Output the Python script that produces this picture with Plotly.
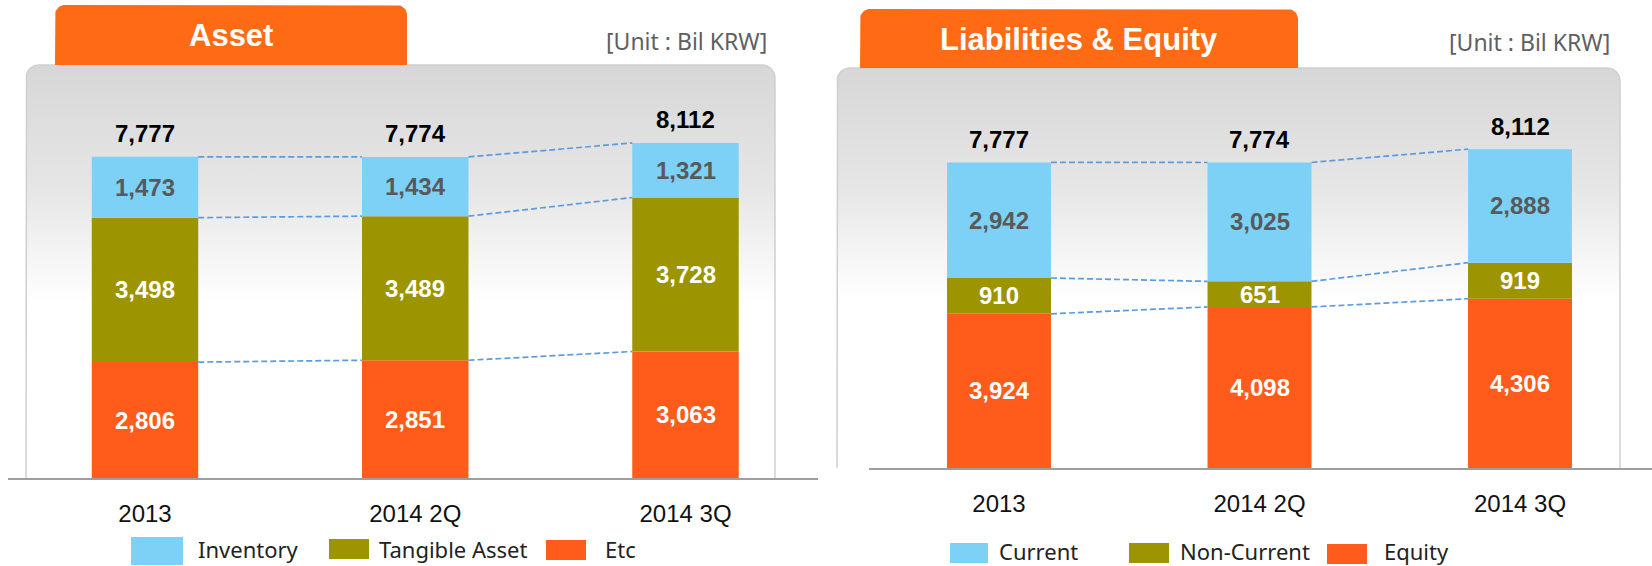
import numpy as np
import plotly.graph_objects as go

W, H = 1652, 566

# ---------------- data ----------------
categories = ["2013", "2014 2Q", "2014 3Q"]

asset_title = "Asset"
asset_series = ["Etc", "Tangible Asset", "Inventory"]          # bottom -> top
asset_etc = [2806, 2851, 3063]
asset_tangible = [3498, 3489, 3728]
asset_inventory = [1473, 1434, 1321]
asset_totals = [7777, 7774, 8112]

le_title = "Liabilities & Equity"
le_series = ["Equity", "Non-Current", "Current"]              # bottom -> top
le_equity = [3924, 4098, 4306]
le_noncurrent = [910, 651, 919]
le_current = [2942, 3025, 2888]
le_totals = [7777, 7774, 8112]

unit_label = "[Unit : Bil KRW]"

# ---------------- styles ----------------
BLUE = "#7DD1F6"
OLIVE = "#9C9400"
ORANGE = "#FF5B1A"
TAB = "#FF6A14"
DASH = "#5B9BE0"
NUM_FONT = "Liberation Sans, Arial, sans-serif"
TXT_FONT = "Noto Sans, sans-serif"


def px_x(x):
    return x / W


def px_y(y):
    return 1 - y / H


def rounded_top(x0, x1, y0, y1, r, closed=True):
    xs, ys = [x0], [y1]
    a = np.linspace(np.pi, 1.5 * np.pi, 12)
    xs += list(x0 + r + r * np.cos(a)); ys += list(y0 + r + r * np.sin(a))
    a = np.linspace(1.5 * np.pi, 2 * np.pi, 12)
    xs += list(x1 - r + r * np.cos(a)); ys += list(y0 + r + r * np.sin(a))
    xs.append(x1); ys.append(y1)
    if closed:
        xs.append(x0); ys.append(y1)
    return xs, ys


fig = go.Figure()

# ---------- decorations on a pixel-space overlay (x/y) ----------
panels = [(26, 775, 65, 478), (837, 1620, 68, 468)]
for (x0, x1, y0, y1) in panels:
    xs, ys = rounded_top(x0, x1, y0, y1, 13)
    fig.add_trace(go.Scatter(
        x=xs, y=ys, mode="lines", fill="toself", line=dict(width=0),
        fillgradient=dict(type="vertical", start=y0, stop=y1,
                          colorscale=[[0, "#D7D7D7"], [0.3, "#E6E6E6"],
                                      [0.58, "#FFFFFF"], [1, "#FFFFFF"]]),
        hoverinfo="skip", showlegend=False, xaxis="x", yaxis="y"))
    bx, by = rounded_top(x0, x1, y0, y1, 13, closed=False)
    fig.add_trace(go.Scatter(
        x=bx, y=by, mode="lines", line=dict(color="#CFCFCF", width=1.5),
        hoverinfo="skip", showlegend=False, xaxis="x", yaxis="y"))

tabs = [(55, 407, 5, 65), (860, 1298, 9, 68)]
for (x0, x1, y0, y1) in tabs:
    xs, ys = rounded_top(x0, x1, y0, y1, 10)
    fig.add_trace(go.Scatter(
        x=xs, y=ys, mode="lines", fill="toself", fillcolor=TAB,
        line=dict(width=0), hoverinfo="skip", showlegend=False,
        xaxis="x", yaxis="y"))

# ---------- chart definitions ----------
charts = [
    dict(ax="2", series=asset_series,
         values=[asset_etc, asset_tangible, asset_inventory],
         colors=[ORANGE, OLIVE, BLUE], label_colors=["white", "white", "#595959"],
         totals=asset_totals, width=0.394,
         xdom=(8, 818), centers=(145, 685.5), base=478, top=65, scale=0.0413,
         title=asset_title, title_pos=(231, 35), unit_pos=(769, 41),
         legend=[  # (series index, swatch x0, x1, y0, y1, text x)
             (2, 131, 183, 537, 565, 196),
             (1, 329, 369, 539, 559, 377),
             (0, 546, 586, 540, 560, 603)],
         legend_y=549, standoff=13),
    dict(ax="3", series=le_series,
         values=[le_equity, le_noncurrent, le_current],
         colors=[ORANGE, OLIVE, BLUE], label_colors=["white", "white", "#595959"],
         totals=le_totals, width=0.399,
         xdom=(869, 1652), centers=(999, 1520), base=468, top=68, scale=0.0393,
         title=le_title, title_pos=(1079, 39), unit_pos=(1612, 42),
         legend=[
             (2, 950, 988, 543, 563, 997),
             (1, 1129, 1169, 543, 563, 1178),
             (0, 1327, 1367, 544, 564, 1382)],
         legend_y=551, standoff=13),
]

annotations = []
shapes = []
layout_axes = {}

xpos = list(range(len(categories)))

for ch in charts:
    ax = ch["ax"]
    xa, ya = "x" + ax, "y" + ax
    c0, c2 = ch["centers"]
    spacing = (c2 - c0) / (len(categories) - 1)
    xd0, xd1 = ch["xdom"]
    xr = [-(c0 - xd0) / spacing, (len(categories) - 1) + (xd1 - c2) / spacing]
    yr = [0, (ch["base"] - ch["top"]) / ch["scale"]]

    layout_axes["xaxis" + ax] = dict(
        domain=[px_x(xd0), px_x(xd1)], range=xr, anchor=ya,
        tickvals=xpos, ticktext=categories, showgrid=False, zeroline=False,
        showline=True, linecolor="#9E9E9E", linewidth=2, ticks="",
        tickfont=dict(family=NUM_FONT, size=24, color="#111111"),
        ticklabelstandoff=ch["standoff"], fixedrange=True)
    layout_axes["yaxis" + ax] = dict(
        domain=[px_y(ch["base"]), px_y(ch["top"])], range=yr, anchor=xa,
        visible=False, fixedrange=True)

    cum = np.zeros(len(categories))
    levels = []
    for name, vals, col, lcol in zip(ch["series"], ch["values"],
                                     ch["colors"], ch["label_colors"]):
        vals = np.array(vals, dtype=float)
        fig.add_trace(go.Bar(
            x=xpos, y=vals, base=cum.copy(), name=name, width=ch["width"],
            marker=dict(color=col, line=dict(width=0)),
            hoverinfo="skip", showlegend=False, xaxis=xa, yaxis=ya))
        for i, v in enumerate(vals):
            annotations.append(dict(
                x=xpos[i], y=cum[i] + v / 2, xref=xa, yref=ya,
                text=f"{int(v):,}", showarrow=False,
                font=dict(family=NUM_FONT, size=24, color=lcol, weight="bold")))
        cum = cum + vals
        levels.append(cum.copy())

    # dashed connectors between bar boundaries
    half = ch["width"] / 2
    for lvl in levels:
        lx, ly = [], []
        for i in range(len(categories) - 1):
            lx += [xpos[i] + half, xpos[i + 1] - half, None]
            ly += [lvl[i], lvl[i + 1], None]
        fig.add_trace(go.Scatter(
            x=lx, y=ly, mode="lines",
            line=dict(color=DASH, width=1.7, dash="6px,3px"),
            hoverinfo="skip", showlegend=False, xaxis=xa, yaxis=ya))

    # totals
    for i, t in enumerate(ch["totals"]):
        annotations.append(dict(
            x=xpos[i], y=t, xref=xa, yref=ya, yshift=23,
            text=f"{t:,}", showarrow=False,
            font=dict(family=NUM_FONT, size=24, color="#000000", weight="bold")))

    # tab title & unit
    tx, ty = ch["title_pos"]
    annotations.append(dict(
        x=px_x(tx), y=px_y(ty), xref="paper", yref="paper", text=ch["title"],
        showarrow=False, xanchor="center", yanchor="middle",
        font=dict(family=NUM_FONT, size=31, color="white", weight="bold")))
    ux, uy = ch["unit_pos"]
    annotations.append(dict(
        x=px_x(ux), y=px_y(uy), xref="paper", yref="paper", text=unit_label,
        showarrow=False, xanchor="right", yanchor="middle",
        font=dict(family=TXT_FONT, size=23, color="#5F5F5F")))

    # custom legend
    for (si, sx0, sx1, sy0, sy1, txx) in ch["legend"]:
        shapes.append(dict(
            type="rect", xref="paper", yref="paper",
            x0=px_x(sx0), x1=px_x(sx1), y0=px_y(sy1), y1=px_y(sy0),
            fillcolor=ch["colors"][si], line=dict(width=0)))
        annotations.append(dict(
            x=px_x(txx), y=px_y(ch["legend_y"]), xref="paper", yref="paper",
            text=ch["series"][si], showarrow=False, xanchor="left",
            yanchor="middle",
            font=dict(family=TXT_FONT, size=22, color="#222222")))

fig.update_layout(
    width=W, height=H, autosize=False,
    margin=dict(l=0, r=0, t=0, b=0, pad=0),
    paper_bgcolor="white", plot_bgcolor="rgba(0,0,0,0)",
    barmode="overlay", showlegend=False,
    xaxis=dict(domain=[0, 1], range=[0, W], visible=False, fixedrange=True),
    yaxis=dict(domain=[0, 1], range=[H, 0], visible=False, fixedrange=True),
    annotations=annotations, shapes=shapes,
    **layout_axes,
)

fig.write_html(
    "out.html",
    config={"displayModeBar": False},
    post_script="document.body.style.margin='0';document.body.style.padding='0';",
)
